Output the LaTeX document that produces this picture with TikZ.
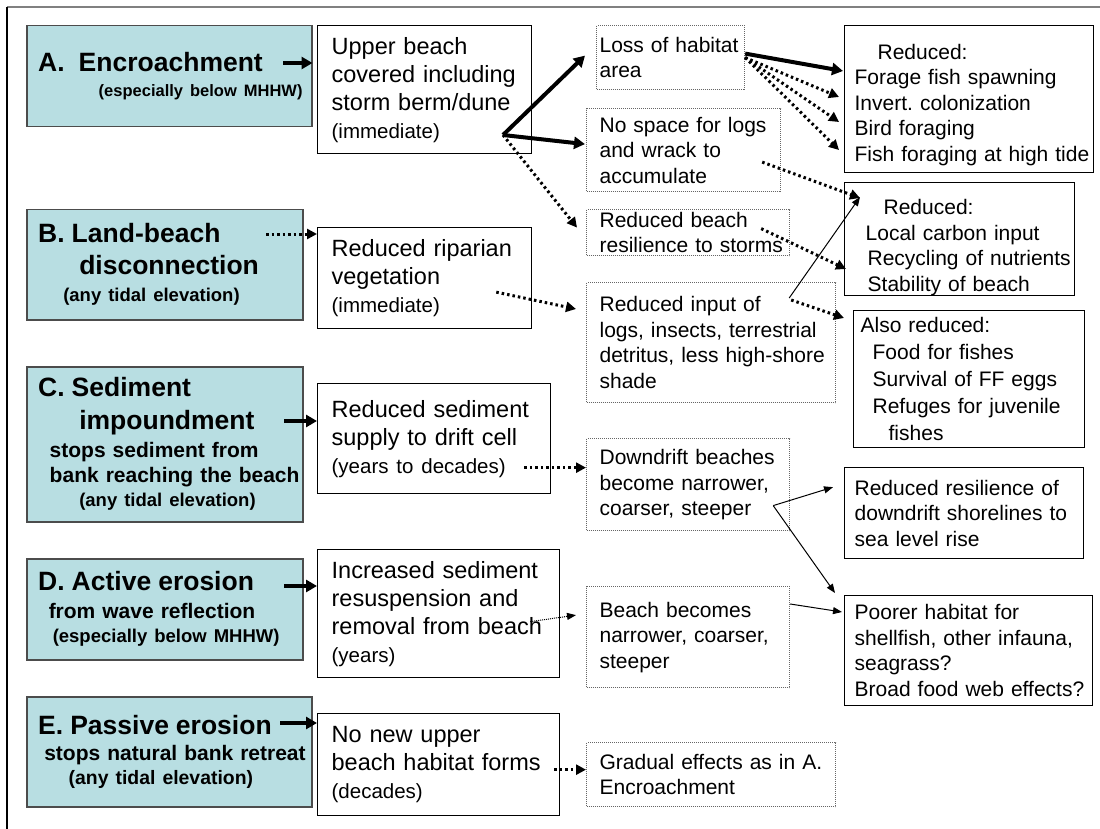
\documentclass[tikz,border=0pt]{standalone}
\usepackage{fontspec}
\setmainfont{Liberation Sans}
\usepackage{tikz}
\usetikzlibrary{positioning, arrows.meta}
\definecolor{armour}{RGB}{184,222,226}
\definecolor{framegray}{RGB}{128,128,128}
\newcommand{\causehead}{\fontsize{26.5}{24}\selectfont}
\newcommand{\causeelev}{\fontsize{18.5}{22}\selectfont}
\newcommand{\timenote}{\fontsize{20.5}{24}\selectfont}
\frenchspacing

\begin{document}
\begin{tikzpicture}[x=1pt, y=-1pt,
    boxw/.style={minimum width=#1, text width=#1},
    textinset/.style={execute at begin node={\leftskip=#1pt\hyphenpenalty=10000}},
    cause/.style={draw=black!70, line width=1.5, fill=armour, anchor=north west, align=left, inner xsep=0, inner ysep=0, textinset=5, font=\bfseries\fontsize{21}{24}\selectfont},
    effect/.style={draw, line width=1.3, anchor=north west, align=left, inner xsep=0, inner ysep=0, textinset=14, font=\fontsize{23.5}{28}\selectfont},
    impact/.style={draw=black!60, line width=1.2, dash pattern=on 1pt off 1pt, anchor=north west, align=left, inner xsep=0, inner ysep=0, textinset=13, font=\fontsize{21}{25.5}\selectfont},
    outcome/.style={draw, line width=1.3, anchor=north west, align=left, inner xsep=0, inner ysep=0, textinset=10, font=\fontsize{21}{25.5}\selectfont},
    bigarrow/.style={line width=4, -{Triangle[length=11pt,width=12pt]}},
    dotarrow/.style={line width=3, dash pattern=on 2.5pt off 3pt, -{Triangle[length=10pt,width=10pt]}},
    thinarrow/.style={line width=1, -{Triangle[length=9pt,width=7pt]}},
    finearrow/.style={thinarrow, dash pattern=on 1pt off 1pt}]

  \useasboundingbox (0,0) rectangle (1100,829);
  \draw[framegray, line width=1.5] (1100,7) -- (7,7);
  \draw[line width=1.5] (7,7) -- (7,829);

  % shoreline armouring impacts
  \node[cause, boxw=285, minimum height=101] (encroach) at (26,25)
    {\hspace*{6.5pt}{\causehead A.\ \ Encroachment}\\[1pt]\hspace*{67pt}{\fontsize{16.5}{20}\selectfont (especially below MHHW)}};
  \node[cause, boxw=276, minimum height=110] (disconnect) at (26,209)
    {\hspace*{6.5pt}{\causehead B. Land-beach}\\[8pt]\hspace*{47.5pt}{\causehead disconnection}\\[3pt]\hspace*{31.5pt}{\causeelev (any tidal elevation)}};
  \node[cause, boxw=276, minimum height=155] (impound) at (26,366)
    {\hspace*{6.5pt}{\causehead C. Sediment}\\[9pt]\hspace*{47.5pt}{\causehead impoundment}\\[4pt]\hspace*{18pt}stops sediment from\\[1pt]\hspace*{18pt}bank reaching the beach\\\hspace*{47.5pt}{\causeelev (any tidal elevation)}};
  \node[cause, boxw=276, minimum height=101] (active) at (26,558)
    {\hspace*{6.5pt}{\causehead D. Active erosion}\\[4pt]\hspace*{17pt}from wave reflection\\\hspace*{21pt}{\causeelev (especially below MHHW)}};
  \node[cause, boxw=285, minimum height=110] (passive) at (26,696)
    {\hspace*{6.5pt}{\causehead E. Passive erosion}\\[2pt]\hspace*{12.5pt}stops natural bank retreat\\\hspace*{37pt}{\fontsize{19.4}{22}\selectfont (any tidal elevation)}};

  % first effects
  \node[effect, boxw=214, minimum height=128] (upper) at (317,25)
    {Upper beach\\covered including\\storm berm/dune\\{\timenote (immediate)}};
  \node[effect, boxw=214, minimum height=101] (riparian) at (317,227)
    {Reduced riparian\\vegetation\\{\timenote (immediate)}};
  \node[effect, boxw=233, minimum height=110] (supply) at (317,383)
    {Reduced sediment\\supply to drift cell\\{\timenote (years to decades)}};
  \node[effect, boxw=242, minimum height=128] (resusp) at (317,549)
    {Increased sediment\\resuspension and\\removal from beach\\{\timenote (years)}};
  \node[effect, boxw=242, minimum height=102] (noupper) at (317,713)
    {No new upper\\beach habitat forms\\{\timenote (decades)}};

  % habitat changes
  \node[impact, boxw=148, minimum height=64, textinset=3] (habitat) at (596,25)
    {Loss of habitat\\area};
  \node[impact, boxw=194, minimum height=83] (nospace) at (586,108)
    {No space for logs\\and wrack to\\accumulate};
  \node[impact, boxw=203, minimum height=46] (resil) at (586,209)
    {Reduced beach\\resilience to storms};
  \node[impact, boxw=249, minimum height=120] (input) at (586,282)
    {Reduced input of\\logs, insects, terrestrial\\detritus, less high-shore\\shade};
  \node[impact, boxw=203, minimum height=92] (downdrift) at (586,438)
    {Downdrift beaches\\become narrower,\\coarser, steeper};
  \node[impact, boxw=203, minimum height=101] (narrow) at (586,586)
    {Beach becomes\\narrower, coarser,\\steeper};
  \node[impact, boxw=249, minimum height=64] (gradual) at (586,742)
    {Gradual effects as in A.\\Encroachment};

  % ecological outcomes
  \node[outcome, boxw=249, minimum height=147] (redFish) at (844,25)
    {\rule{0pt}{27pt}\hspace*{23pt}Reduced:\\Forage fish spawning\\Invert. colonization\\Bird foraging\\Fish foraging at high tide};
  \node[outcome, boxw=230, minimum height=110, textinset=6] (redCarbon) at (844,182)
    {\rule{0pt}{32pt}\hspace*{33pt}Reduced:\\\hspace*{15pt}Local carbon input\\\hspace*{17pt}Recycling of nutrients\\\hspace*{17pt}Stability of beach};
  \node[outcome, boxw=231, minimum height=137, textinset=7, font=\fontsize{21}{27}\selectfont] (alsoRed) at (853,310)
    {Also reduced:\\\hspace*{12pt}Food for fishes\\\hspace*{12pt}Survival of FF eggs\\\hspace*{12pt}Refuges for juvenile\\\hspace*{28pt}fishes};
  \node[outcome, boxw=239, minimum height=91] (seaLevel) at (844,467)
    {Reduced resilience of\\downdrift shorelines to\\sea level rise};
  \node[outcome, boxw=248, minimum height=110] (poorer) at (844,595)
    {Poorer habitat for\\shellfish, other infauna,\\seagrass?\\Broad food web effects?};

  % cause arrows
  \coordinate (encOut) at (283,63);
  \coordinate (disOut) at (266,234);
  \coordinate (impOut) at (284,421);
  \coordinate (actOut) at (284,586);
  \coordinate (pasOut) at (280,723);
  \draw[bigarrow] (encOut) -- (encOut -| encroach.east);
  \draw[dotarrow] (disOut) -- (disOut -| riparian.west);
  \draw[bigarrow] (impOut) -- (impOut -| supply.west);
  \draw[bigarrow] (actOut) -- (actOut -| resusp.west);
  \draw[bigarrow] (pasOut) -- (pasOut -| noupper.west);

  % from the covered upper beach
  \coordinate (upperHub) at (503,135);
  \draw[bigarrow] (upperHub) -- ([xshift=-11,yshift=2]habitat.west);
  \draw[bigarrow] (upperHub) -- ([xshift=-1,yshift=6]nospace.west);
  \draw[dotarrow] (upperHub) -- ([xshift=-9,yshift=5]resil.west);

  \draw[bigarrow] ([yshift=4]habitat.east) -- ([xshift=-1,yshift=-46]redFish.north west);
  \foreach \dy in {72,97,125}
    \draw[dotarrow] (habitat.east) -- ([xshift=-5,yshift=-\dy]redFish.north west);

  \draw[dotarrow] ([xshift=-19,yshift=-12]nospace.east) -- ([xshift=16,yshift=-16]redCarbon.north west);
  \draw[dotarrow] ([xshift=-29,yshift=4]resil.east) -- ([xshift=2,yshift=-87]redCarbon.north west);
  \draw[thinarrow] ([xshift=-47,yshift=-16]input.north east) -- ([xshift=16,yshift=-15]redCarbon.north west);
  \draw[dotarrow] ([xshift=-45,yshift=-18]input.north east) -- ([xshift=-9,yshift=-8]alsoRed.north west);
  \draw[dotarrow] ([xshift=-36,yshift=-14]riparian.east) -- ([xshift=-10,yshift=-27]input.north west);

  % sediment supply
  \draw[dotarrow] ([xshift=-27,yshift=-29]supply.east) -- ([yshift=-29]supply.east -| downdrift.west);
  \coordinate (driftHub) at ([xshift=-17,yshift=-21]downdrift.east);
  \draw[thinarrow] (driftHub) -- ([xshift=-11,yshift=26]seaLevel.west);
  \draw[thinarrow] (driftHub) -- ([xshift=-9,yshift=2]poorer.north west);
  \draw[finearrow] ([xshift=-30,yshift=-8]resusp.east) -- ([xshift=-10,yshift=22]narrow.west);
  \draw[thinarrow] ([yshift=-18]narrow.north east) -- ([xshift=-2,yshift=-17]poorer.north west);
  \draw[dotarrow] ([xshift=-6,yshift=-5]noupper.east) -- ([yshift=-5]noupper.east -| gradual.west);

\end{tikzpicture}
\end{document}
